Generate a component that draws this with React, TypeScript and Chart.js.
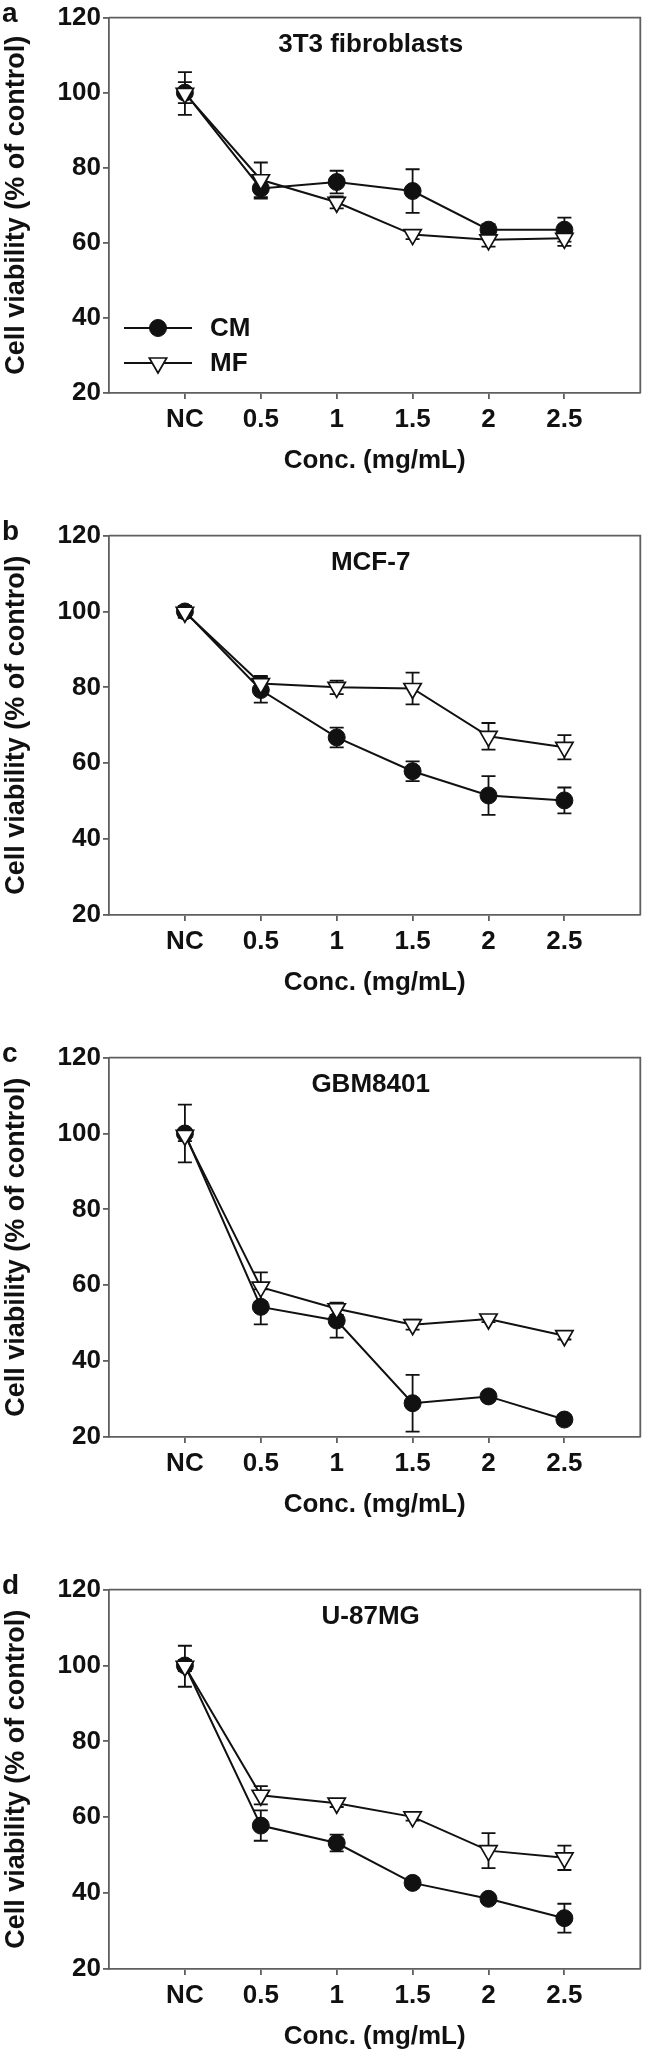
import React, { useEffect, useRef } from "react";
import { Chart, registerables } from "chart.js";
Chart.register(...registerables);

// ---------- data ----------
const categories = ["NC", "0.5", "1", "1.5", "2", "2.5"];
const yTicks = [20, 40, 60, 80, 100, 120];
const seriesNames = ["CM", "MF"];
const panelLetters = ["a", "b", "c", "d"];
const panelTitles = ["3T3 fibroblasts", "MCF-7", "GBM8401", "U-87MG"];
const xTitle = "Conc. (mg/mL)";
const yTitle = "Cell viability (% of control)";

// panel a: 3T3 fibroblasts
const cmA = [100, 74.5, 76.2, 73.8, 63.5, 63.5];
const cmAErr = [2.8, 2.7, 3.0, 5.8, 1.5, 3.2];
const mfA = [99.8, 76.8, 70.8, 62.2, 60.8, 61.2];
const mfAErr = [5.7, 4.6, 1.6, 1.2, 1.8, 2.0];

// panel b: MCF-7
const cmB = [100, 79.3, 66.8, 57.9, 51.5, 50.2];
const cmBErr = [1.5, 3.3, 2.6, 2.6, 5.1, 3.4];
const mfB = [99.8, 81.0, 80.0, 79.7, 67.1, 64.2];
const mfBErr = [1.5, 2.0, 1.8, 4.2, 3.5, 3.2];

// panel c: GBM8401
const cmC = [100, 54.3, 50.7, 28.9, 30.7, 24.6];
const cmCErr = [7.6, 4.6, 4.5, 7.5, 1.0, 1.2];
const mfC = [99.5, 59.5, 53.8, 49.6, 51.1, 46.7];
const mfCErr = [1.5, 3.9, 1.6, 1.3, 0.8, 1.0];

// panel d: U-87MG
const cmD = [100, 57.8, 53.2, 42.7, 38.5, 33.4];
const cmDErr = [1.5, 4.0, 2.2, 1.2, 1.0, 3.8];
const mfD = [99.8, 65.8, 63.7, 60.1, 51.2, 49.3];
const mfDErr = [5.4, 2.4, 1.0, 1.0, 4.6, 3.2];

// ---------- styles ----------
const INK = "#111111";
const AXIS = "#5f5f5f";
const FAMILY = "'Liberation Sans', Arial, Helvetica, sans-serif";
const TICK_FONT = { family: FAMILY, size: 26, weight: "bold" as const };
const TITLE_FONT = { family: FAMILY, size: 26, weight: "bold" as const };
const YTITLE_FONT = { family: FAMILY, size: 27, weight: "bold" as const };

const PAD_TOP = 15;
const X_AXIS_H = 83;
const Y_AXIS_W = 109;

const framePlugin = {
  id: "frame",
  beforeDatasetsDraw(chart: any) {
    const { ctx, chartArea: a } = chart;
    ctx.save();
    ctx.strokeStyle = AXIS;
    ctx.lineWidth = 1.8;
    ctx.beginPath();
    ctx.moveTo(a.left, a.top);
    ctx.lineTo(a.right, a.top);
    ctx.lineTo(a.right, a.bottom);
    ctx.stroke();
    ctx.restore();
  },
};

const errorBarPlugin = {
  id: "errorBars",
  beforeDatasetsDraw(chart: any) {
    const { ctx } = chart;
    const xs = chart.scales.x;
    const ys = chart.scales.y;
    ctx.save();
    ctx.strokeStyle = INK;
    ctx.lineWidth = 1.8;
    chart.data.datasets.forEach((ds: any) => {
      const errs: number[] = ds.errors || [];
      ds.data.forEach((p: any, i: number) => {
        const e = errs[i];
        if (!e) return;
        const x = xs.getPixelForValue(p.x);
        const y1 = ys.getPixelForValue(p.y + e);
        const y2 = ys.getPixelForValue(p.y - e);
        ctx.beginPath();
        ctx.moveTo(x, y1);
        ctx.lineTo(x, y2);
        ctx.moveTo(x - 7, y1);
        ctx.lineTo(x + 7, y1);
        ctx.moveTo(x - 7, y2);
        ctx.lineTo(x + 7, y2);
        ctx.stroke();
      });
    });
    ctx.restore();
  },
};

function drawMarker(ctx: CanvasRenderingContext2D, ds: any, x: number, y: number) {
  ctx.save();
  ctx.fillStyle = ds.pointBackgroundColor;
  ctx.strokeStyle = ds.pointBorderColor;
  ctx.lineWidth = ds.pointBorderWidth || 1;
  ctx.beginPath();
  const r = ds.pointRadius;
  if (ds.pointStyle === "triangle") {
    const rot = ((ds.pointRotation || 0) * Math.PI) / 180;
    for (let k = 0; k < 3; k++) {
      const a = rot + (k * 2 * Math.PI) / 3;
      const px = x + Math.sin(a) * r;
      const py = y - Math.cos(a) * r;
      if (k === 0) ctx.moveTo(px, py);
      else ctx.lineTo(px, py);
    }
    ctx.closePath();
  } else {
    ctx.arc(x, y, r, 0, Math.PI * 2);
  }
  ctx.fill();
  ctx.stroke();
  ctx.restore();
}

function makeTextPlugin(letter: string, title: string, showLegend: boolean) {
  return {
    id: "texts",
    afterDraw(chart: any) {
      const { ctx, chartArea: a } = chart;
      ctx.save();
      ctx.fillStyle = INK;
      ctx.textBaseline = "middle";
      ctx.textAlign = "left";
      ctx.font = `bold 28px ${FAMILY}`;
      ctx.fillText(letter, 2, a.top - 3);
      ctx.textAlign = "center";
      ctx.font = `bold 26px ${FAMILY}`;
      ctx.fillText(title, (a.left + a.right) / 2 - 4, a.top + 27);
      if (showLegend) {
        const offs = [65, 30];
        chart.data.datasets.forEach((ds: any, i: number) => {
          const y = a.bottom - offs[i];
          ctx.strokeStyle = ds.borderColor;
          ctx.lineWidth = ds.borderWidth;
          ctx.beginPath();
          ctx.moveTo(a.left + 15, y);
          ctx.lineTo(a.left + 83, y);
          ctx.stroke();
          drawMarker(ctx, ds, a.left + 49, y);
          ctx.fillStyle = INK;
          ctx.textAlign = "left";
          ctx.font = `bold 26px ${FAMILY}`;
          ctx.fillText(ds.label, a.left + 101, y + 1);
        });
      }
      ctx.restore();
    },
  };
}

type PanelProps = {
  letter: string;
  title: string;
  cm: number[];
  cmErr: number[];
  mf: number[];
  mfErr: number[];
  plotTop: number;
  plotH: number;
  showLegend: boolean;
};

function Panel(p: PanelProps) {
  const ref = useRef<HTMLCanvasElement>(null);
  const h = PAD_TOP + p.plotH + X_AXIS_H;
  useEffect(() => {
    const canvas = ref.current!;
    const chart = new Chart(canvas, {
      type: "line",
      data: {
        datasets: [
          {
            label: seriesNames[0],
            data: p.cm.map((v, i) => ({ x: i, y: v })),
            errors: p.cmErr,
            order: 1,
            borderColor: INK,
            backgroundColor: INK,
            borderWidth: 2,
            pointStyle: "circle",
            pointRadius: 8.5,
            pointBackgroundColor: INK,
            pointBorderColor: INK,
            pointBorderWidth: 1,
            tension: 0,
            fill: false,
          } as any,
          {
            label: seriesNames[1],
            data: p.mf.map((v, i) => ({ x: i, y: v })),
            errors: p.mfErr,
            order: 0,
            borderColor: INK,
            backgroundColor: "#ffffff",
            borderWidth: 2,
            pointStyle: "triangle",
            pointRotation: 180,
            pointRadius: 10,
            pointBackgroundColor: "#ffffff",
            pointBorderColor: INK,
            pointBorderWidth: 1.7,
            tension: 0,
            fill: false,
          } as any,
        ],
      },
      options: {
        animation: false,
        responsive: false,
        events: [],
        layout: { padding: { top: PAD_TOP, right: 2, left: 0, bottom: 0 } },
        plugins: { legend: { display: false }, tooltip: { enabled: false } },
        scales: {
          x: {
            type: "linear",
            min: -1,
            max: 6,
            afterBuildTicks: (axis: any) => {
              axis.ticks = categories.map((_, i) => ({ value: i }));
            },
            afterFit: (axis: any) => {
              axis.height = X_AXIS_H;
            },
            ticks: {
              callback: (v: any) => categories[v] ?? "",
              color: INK,
              font: TICK_FONT,
              padding: 5,
              maxRotation: 0,
              autoSkip: false,
            },
            grid: {
              display: true,
              drawOnChartArea: false,
              drawTicks: true,
              tickLength: 6,
              color: AXIS,
              tickColor: AXIS,
              lineWidth: 1.8,
            },
            border: { display: true, color: AXIS, width: 1.8 },
            title: {
              display: true,
              text: xTitle,
              color: INK,
              font: TITLE_FONT,
              padding: { top: 0, bottom: 0 },
            },
          },
          y: {
            type: "linear",
            min: 20,
            max: 120,
            afterBuildTicks: (axis: any) => {
              axis.ticks = yTicks.map((v) => ({ value: v }));
            },
            afterFit: (axis: any) => {
              axis.width = Y_AXIS_W;
            },
            ticks: { color: INK, font: TICK_FONT, padding: 2 },
            grid: {
              display: true,
              drawOnChartArea: false,
              drawTicks: true,
              tickLength: 6,
              color: AXIS,
              tickColor: AXIS,
              lineWidth: 1.8,
            },
            border: { display: true, color: AXIS, width: 1.8 },
            title: {
              display: true,
              text: yTitle,
              color: INK,
              font: YTITLE_FONT,
              padding: { top: 0, bottom: 0 },
            },
          },
        },
      } as any,
      plugins: [framePlugin, errorBarPlugin, makeTextPlugin(p.letter, p.title, p.showLegend)],
    });
    return () => chart.destroy();
  }, []);
  return (
    <canvas
      ref={ref}
      width={652}
      height={h}
      style={{ position: "absolute", left: 0, top: p.plotTop - PAD_TOP, width: 652, height: h }}
    />
  );
}

export default function App() {
  const panels = [
    { cm: cmA, cmErr: cmAErr, mf: mfA, mfErr: mfAErr, plotTop: 15, plotH: 378 },
    { cm: cmB, cmErr: cmBErr, mf: mfB, mfErr: mfBErr, plotTop: 533, plotH: 382 },
    { cm: cmC, cmErr: cmCErr, mf: mfC, mfErr: mfCErr, plotTop: 1055, plotH: 382 },
    { cm: cmD, cmErr: cmDErr, mf: mfD, mfErr: mfDErr, plotTop: 1587, plotH: 382 },
  ];
  return (
    <div
      style={{
        position: "absolute",
        left: 0,
        top: 0,
        width: 652,
        height: 2054,
        background: "#ffffff",
        overflow: "hidden",
      }}
    >
      {panels.map((pp, i) => (
        <Panel
          key={i}
          letter={panelLetters[i]}
          title={panelTitles[i]}
          showLegend={i === 0}
          {...pp}
        />
      ))}
    </div>
  );
}
